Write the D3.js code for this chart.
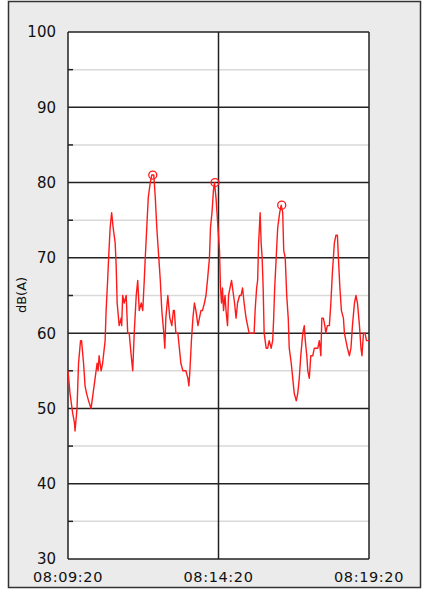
<!DOCTYPE html>
<html>
<head>
<meta charset="utf-8">
<script src="https://cdn.jsdelivr.net/npm/d3@7"></script>
<style>
body { margin: 0; background: #fff; }
text { font-family: "DejaVu Sans", Verdana, sans-serif; fill: #111; }
</style>
</head>
<body>
<svg id="mainsvg" width="423" height="590"></svg>
<script>
// data: seconds after 08:09:20 and level in dB(A)
const startTime = '08:09:20';
const xTickLabels = ['08:09:20', '08:14:20', '08:19:20'];
const yMajor = [30, 40, 50, 60, 70, 80, 90, 100];
const yMinor = [35, 45, 55, 65, 75, 85, 95];

const secs = [0, 4, 9, 13, 14, 18, 21, 25, 27, 31, 34, 37, 41, 46, 50, 54, 58, 60, 62, 66, 69, 74, 76, 79, 81, 84, 87, 90, 94, 96, 98,
  102, 106, 107, 109, 112, 116, 119, 122, 126, 129, 132, 136, 139, 142, 146, 149, 152, 154, 157, 160, 164, 167, 171, 174, 177, 181, 184, 187, 191, 193, 195, 199,
  203, 207, 210, 212, 215, 219, 222, 225, 229, 232, 235, 239, 241, 243, 246, 249, 252, 255, 259, 262, 265, 268, 272, 275, 278, 282, 284, 287, 290, 292, 295,
  297, 302, 304, 306, 308, 310, 313, 315, 318, 320, 323, 326, 328, 332, 335, 338, 342, 345, 348, 351, 355, 358, 361, 371, 373, 376, 378, 380, 383, 385, 387, 389, 391, 395,
  398, 401, 405, 408, 410, 412, 415, 418, 422, 425, 428, 430, 433, 436, 439, 441, 445, 448, 451, 455, 458, 461, 464, 468, 471, 473, 476, 478, 481, 484, 488, 491, 494,
  498, 501, 504, 506, 509, 512, 514, 517, 521, 524, 527, 531, 534, 537, 539, 542, 545, 549, 551, 554, 557, 561, 564, 567, 571, 574, 577, 581, 584, 586, 589, 592, 595, 600];
const dbA = [55, 52, 49.5, 48, 47, 50, 56, 59, 59, 56, 53, 52, 51, 50, 52, 54, 56, 55, 57, 55, 56, 59, 63, 67, 70, 74, 76, 74, 72, 69, 64,
  61, 62, 61, 65, 64, 65, 60, 60, 57, 55, 60, 65, 67, 63, 64, 63, 67, 70, 74, 78, 80, 81, 81, 78, 74, 70, 67, 63, 60, 58, 62, 65,
  62, 61, 63, 63, 60, 60, 58, 56, 55, 55, 55, 54, 53, 55, 59, 62, 64, 63, 61, 62, 63, 63, 64, 65, 67, 70, 74, 76, 79, 80, 78,
  76, 71, 66, 64, 66, 63, 65, 63, 61, 65, 66, 67, 66, 64, 62, 64, 65, 65, 66, 64, 62, 61, 60, 60, 63, 66, 67, 72, 76, 72, 70, 66, 60, 58,
  58, 59, 58, 59, 62, 66, 70, 74, 76, 77, 76, 71, 70, 65, 62, 58, 56, 54, 52, 51, 52, 54, 57, 60, 61, 59, 57, 55, 54, 57, 57, 58, 58,
  58, 59, 57, 62, 62, 61, 60, 61, 61, 64, 68, 72, 73, 73, 70, 66, 63, 62, 60, 59, 58, 57, 58, 61, 64, 65, 64, 61, 58, 57, 60, 60, 59, 59, 59];

const peakSecs = [169, 293, 426];
const peakVals = [81, 80, 77];

const svg = d3.select('#mainsvg');
const width = +svg.attr('width');
const height = +svg.attr('height');
const margin = {top: 32, right: 54, bottom: 31, left: 68};
const innerWidth = width - margin.left - margin.right;
const innerHeight = height - margin.top - margin.bottom;

const parseTime = d3.timeParse('%H:%M:%S');
const t0 = parseTime(startTime);
const toDate = s => new Date(t0.getTime() + s * 1000);
const series = secs.map((s, i) => ({t: toDate(s), v: dbA[i]}));
const peaks = peakSecs.map((s, i) => ({t: toDate(s), v: peakVals[i]}));

const xScale = d3.scaleTime()
    .domain([parseTime(xTickLabels[0]), parseTime(xTickLabels[xTickLabels.length - 1])])
    .range([0, innerWidth]);
const yScale = d3.scaleLinear()
    .domain([30, 100])
    .range([innerHeight, 0]);

// grey panel with frame
svg.append('rect')
    .attr('x', 8.5).attr('y', 1.5)
    .attr('width', 412).attr('height', 586)
    .attr('fill', '#ebebeb')
    .attr('stroke', '#333').attr('stroke-width', 1.5);

const g = svg.append('g').attr('id', 'maingroup')
    .attr('transform', `translate(${margin.left}, ${margin.top})`);

g.append('rect')
    .attr('width', innerWidth).attr('height', innerHeight)
    .attr('fill', '#fff');

// light minor lines + short ticks
g.selectAll('.minor').data(yMinor).enter().append('line')
    .attr('class', 'minor')
    .attr('x1', 0).attr('x2', innerWidth)
    .attr('y1', d => yScale(d)).attr('y2', d => yScale(d))
    .attr('stroke', '#d9d9d9').attr('stroke-width', 1.5);
g.selectAll('.minorTick').data(yMinor).enter().append('line')
    .attr('class', 'minorTick')
    .attr('x1', 0).attr('x2', 5)
    .attr('y1', d => yScale(d)).attr('y2', d => yScale(d))
    .attr('stroke', '#222').attr('stroke-width', 1.5);

// major lines
g.selectAll('.major').data(yMajor).enter().append('line')
    .attr('class', 'major')
    .attr('x1', 0).attr('x2', innerWidth)
    .attr('y1', d => yScale(d)).attr('y2', d => yScale(d))
    .attr('stroke', '#222').attr('stroke-width', 1.5);

const xTicks = xTickLabels.map(parseTime);
g.selectAll('.vline').data(xTicks).enter().append('line')
    .attr('class', 'vline')
    .attr('x1', d => xScale(d)).attr('x2', d => xScale(d))
    .attr('y1', 0).attr('y2', innerHeight)
    .attr('stroke', '#222').attr('stroke-width', 1.5);

// labels
g.selectAll('.ylab').data(yMajor).enter().append('text')
    .attr('class', 'ylab')
    .attr('x', -12)
    .attr('y', d => yScale(d))
    .attr('dy', '0.36em')
    .attr('text-anchor', 'end')
    .attr('font-size', 15)
    .text(d => d);

g.selectAll('.xlab').data(xTicks).enter().append('text')
    .attr('class', 'xlab')
    .attr('x', d => xScale(d))
    .attr('y', innerHeight + 22.5)
    .attr('text-anchor', 'middle')
    .attr('font-size', 14.5)
    .attr('letter-spacing', 0.6)
    .text((d, i) => xTickLabels[i]);

svg.append('text')
    .attr('transform', 'translate(26, 295) rotate(-90)')
    .attr('text-anchor', 'middle')
    .attr('font-size', 13)
    .text('dB(A)');

// level line
const line = d3.line()
    .x(d => xScale(d.t))
    .y(d => yScale(d.v));

g.append('path')
    .datum(series)
    .attr('d', line)
    .attr('fill', 'none')
    .attr('stroke', '#ff1a1a')
    .attr('stroke-width', 1.4)
    .attr('stroke-linejoin', 'round');

g.selectAll('.peak').data(peaks).enter().append('circle')
    .attr('class', 'peak')
    .attr('cx', d => xScale(d.t))
    .attr('cy', d => yScale(d.v))
    .attr('r', 4)
    .attr('fill', 'none')
    .attr('stroke', '#ff1a1a')
    .attr('stroke-width', 1.3);
</script>
</body>
</html>
